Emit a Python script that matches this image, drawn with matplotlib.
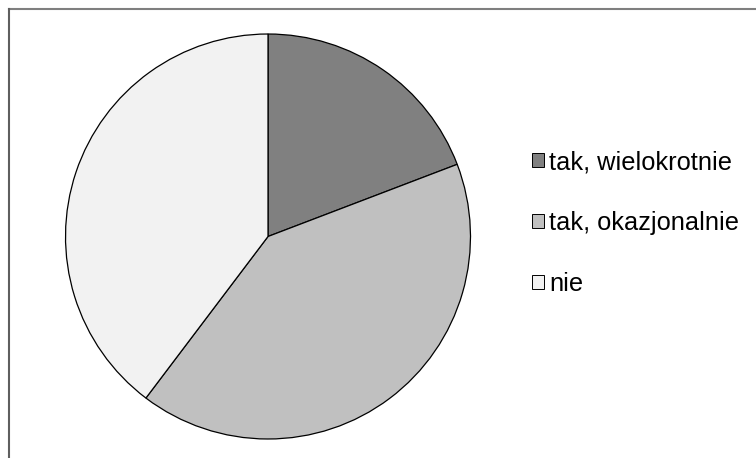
import matplotlib
matplotlib.use("Agg")
import matplotlib.pyplot as plt
from matplotlib.patches import Patch
from matplotlib.lines import Line2D

categories = ["tak, wielokrotnie", "tak, okazjonalnie", "nie"]
values = [19.2, 41.1, 39.7]
colors = ["#808080", "#c0c0c0", "#f2f2f2"]

plt.rcParams['font.family'] = ['Liberation Sans', 'DejaVu Sans']

fig = plt.figure(figsize=(7.56, 4.58), dpi=100)
W, H = 756, 458

# outer frame (top and left visible)
fig.add_artist(Line2D([9 / W, 1.0], [1 - 9 / H, 1 - 9 / H], color="#7f7f7f", lw=1.5,
                      transform=fig.transFigure))
fig.add_artist(Line2D([9 / W, 9 / W], [0.0, 1 - 9 / H], color="#5f5f5f", lw=1.5,
                      transform=fig.transFigure))

ax = fig.add_axes([64.5 / W, 18 / H, 407 / W, 407 / H])
wedges, _ = ax.pie(values, colors=colors, startangle=90, counterclock=False,
                   wedgeprops=dict(edgecolor="black", linewidth=0.9))
ax.set_xlim(-1.005, 1.005)
ax.set_ylim(-1.005, 1.005)
ax.set_aspect('equal')
ax.axis('off')

handles = [Patch(facecolor=c, edgecolor="black", linewidth=0.7) for c in colors]
fig.legend(handles, categories, loc="center left",
           bbox_to_anchor=(532 / W, 1 - 223 / H), frameon=False,
           fontsize=18.3, handlelength=0.48, handleheight=0.48,
           handletextpad=0.2, labelspacing=1.45, borderpad=0, borderaxespad=0)

fig.savefig("out.png", dpi=100)
